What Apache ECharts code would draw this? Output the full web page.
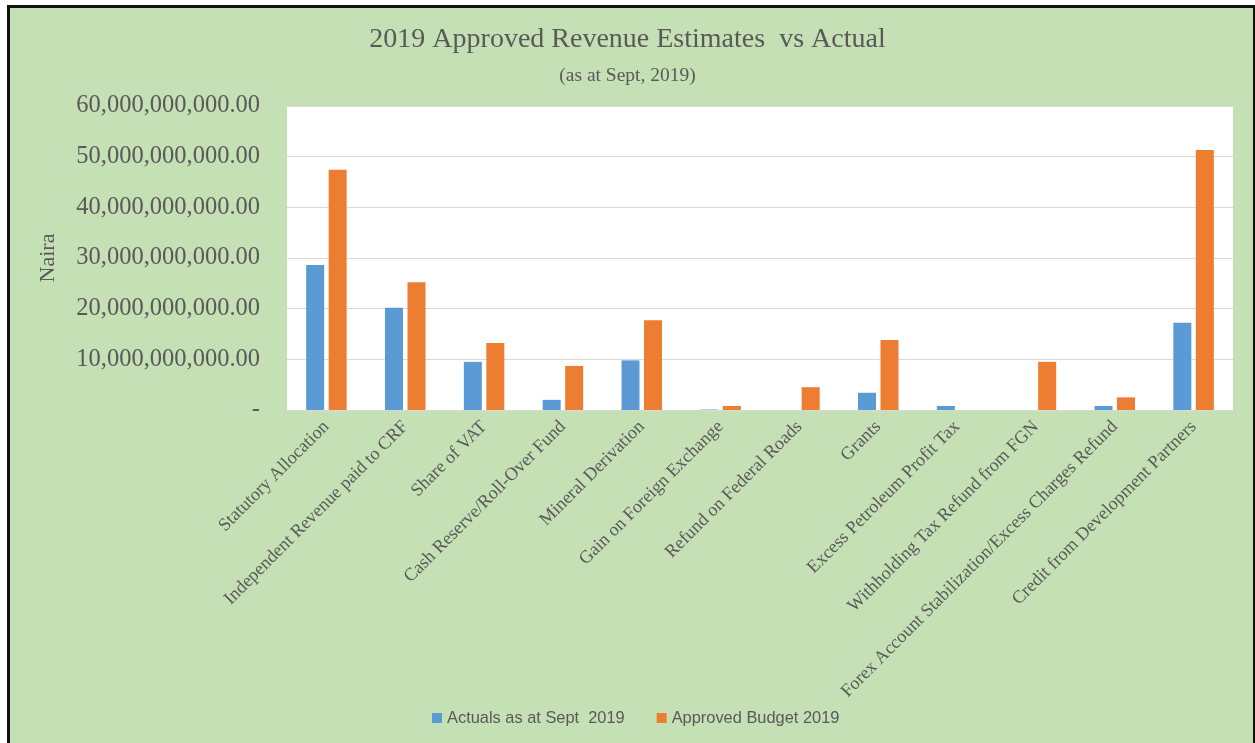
<!DOCTYPE html>
<html>
<head>
<meta charset="utf-8">
<script src="https://cdn.jsdelivr.net/npm/echarts@6/dist/echarts.min.js"></script>
<style>
html,body{margin:0;padding:0;background:#fff;width:1255px;height:743px;overflow:hidden;}
#frame{position:absolute;left:7px;top:5px;width:1243px;height:800px;border:3px solid #111;background:#C5E0B4;}
#chart{position:absolute;left:0;top:0;width:1255px;height:743px;}
</style>
</head>
<body>
<div id="frame"></div>
<div id="chart"></div>
<script>
const categories = [
  "Statutory Allocation",
  "Independent Revenue paid to CRF",
  "Share of VAT",
  "Cash Reserve/Roll-Over Fund",
  "Mineral Derivation",
  "Gain on Foreign Exchange",
  "Refund on Federal Roads",
  "Grants",
  "Excess Petroleum Profit Tax",
  "Withholding Tax Refund from FGN",
  "Forex Account Stabilization/Excess Charges Refund",
  "Credit from Development Partners"
];
const actuals = [28.6e9, 20.2e9, 9.5e9, 2.0e9, 9.8e9, 0.1e9, 0, 3.4e9, 0.8e9, 0, 0.8e9, 17.2e9];
const budget = [47.4e9, 25.2e9, 13.2e9, 8.7e9, 17.7e9, 0.8e9, 4.5e9, 13.8e9, 0, 9.5e9, 2.5e9, 51.3e9];
const seriesNames = ["Actuals as at Sept  2019", "Approved Budget 2019"];

const chart = echarts.init(document.getElementById('chart'), null, {renderer:'canvas'});
const serif = '"Liberation Serif", "Times New Roman", serif';
const sans = '"Liberation Sans", Arial, sans-serif';
function fmt(v){
  if (v === 0) return '-';
  return v.toLocaleString('en-US', {minimumFractionDigits:2, maximumFractionDigits:2});
}
chart.setOption({
  backgroundColor: 'transparent',
  animation: false,
  title: [
    {text: '2019 Approved Revenue Estimates  vs Actual', left: 'center', top: 21,
     textStyle: {fontFamily: serif, fontSize: 28, fontWeight: 'normal', color: '#595959'}},
    {text: '(as at Sept, 2019)', left: 'center', top: 61,
     textStyle: {fontFamily: serif, fontSize: 19.5, fontWeight: 'normal', color: '#595959'}}
  ],
  legend: {
    bottom: 12, left: 427, itemWidth: 10, itemHeight: 10, itemGap: 32,
    icon: 'rect',
    textStyle: {fontFamily: sans, fontSize: 16.4, color: '#595959'},
    data: seriesNames
  },
  grid: {left: 287, right: 22, top: 106, bottom: 333, show: true, backgroundColor: '#fff', borderWidth: 0},
  xAxis: {
    type: 'category', data: categories,
    axisLine: {lineStyle: {color: '#D9D9D9', width: 1}},
    axisTick: {show: false},
    axisLabel: {rotate: 45, interval: 0, margin: 14, fontFamily: serif, fontSize: 18.2, color: '#595959'}
  },
  yAxis: {
    type: 'value', min: 0, max: 60e9, interval: 10e9,
    name: 'Naira', nameLocation: 'middle', nameGap: 228, nameRotate: 90,
    nameTextStyle: {fontFamily: serif, fontSize: 22, color: '#595959'},
    axisLine: {show: false}, axisTick: {show: false},
    axisLabel: {formatter: fmt, margin: 27, fontFamily: serif, fontSize: 24.5, color: '#595959'},
    splitLine: {lineStyle: {color: '#D9D9D9', width: 1}}
  },
  series: [
    {name: seriesNames[0], type: 'bar', data: actuals, barWidth: 18, barGap: '25%',
     itemStyle: {color: '#5B9BD5'}},
    {name: seriesNames[1], type: 'bar', data: budget, barWidth: 18,
     itemStyle: {color: '#ED7D31'}}
  ]
});
</script>
</body>
</html>
